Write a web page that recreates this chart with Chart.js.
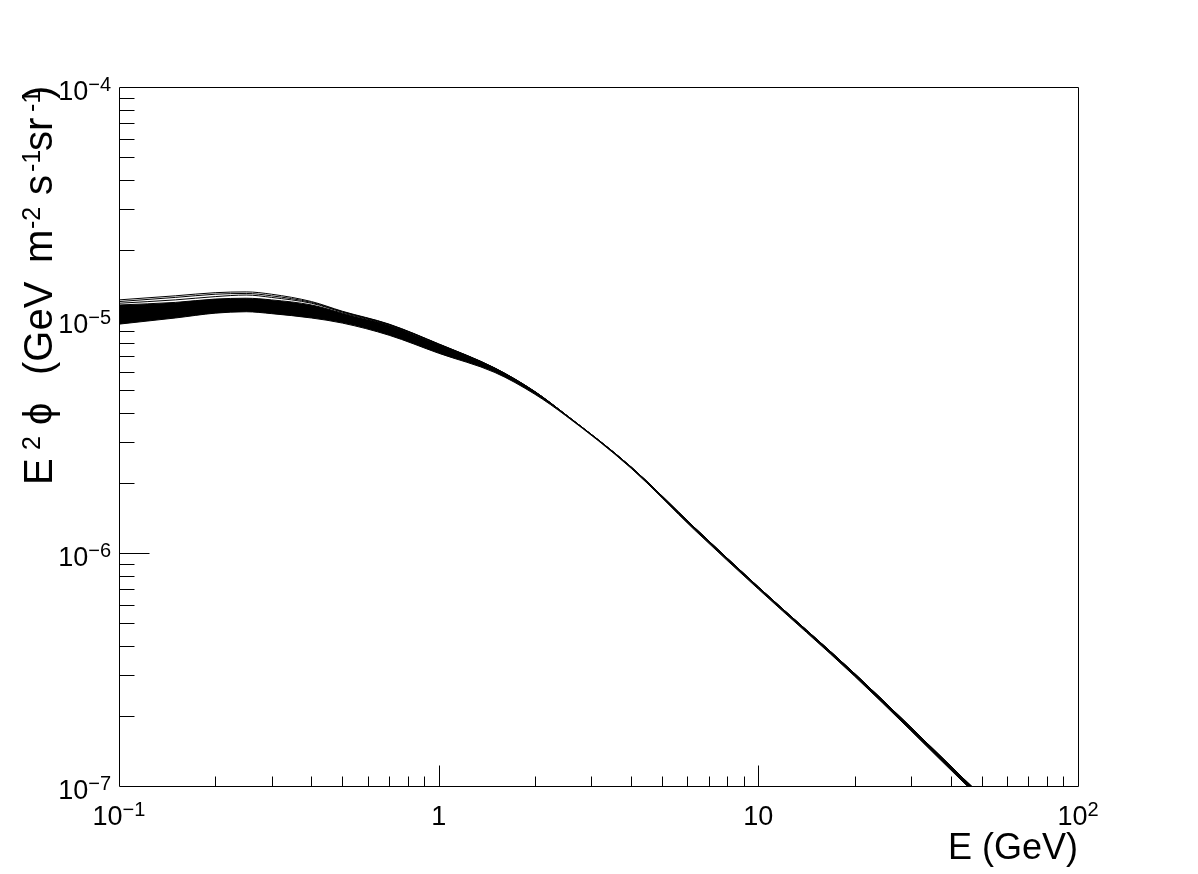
<!DOCTYPE html>
<html>
<head>
<meta charset="utf-8">
<script src="https://cdn.jsdelivr.net/npm/chart.js@4/dist/chart.umd.min.js"></script>
<style>
html,body{margin:0;padding:0;background:#fff;}
canvas{display:block;}
</style>
</head>
<body>
<canvas id="c" width="1198" height="874"></canvas>
<script>
// Energy grid (GeV)
const energyGeV = [0.1, 0.15, 0.2, 0.25, 0.3, 0.4, 0.5, 0.7, 1, 1.5, 2, 2.5, 4, 6.3, 10, 20, 45, 100];
// Dense band: lower and upper edges of E^2 phi
const bandLower = [9.6e-6, 1.02e-5, 1.07e-5, 1.085e-5, 1.065e-5, 1.02e-5, 9.7e-6, 8.6e-6, 7.2e-6, 5.95e-6, 4.8e-6, 3.88e-6, 2.31e-6, 1.26e-6, 7.0e-7, 2.96e-7, 1.0e-7, 3.45e-8];
const bandUpper = [1.16e-5, 1.19e-5, 1.23e-5, 1.24e-5, 1.22e-5, 1.16e-5, 1.07e-5, 9.5e-6, 7.85e-6, 6.2e-6, 4.92e-6, 3.92e-6, 2.34e-6, 1.29e-6, 7.15e-7, 3.04e-7, 1.04e-7, 3.6e-8];
// Individual upper curves
const curveA = [1.22e-5, 1.27e-5, 1.31e-5, 1.32e-5, 1.29e-5, 1.2e-5, 1.09e-5, 9.6e-6, 7.9e-6, 6.22e-6, 4.93e-6, 3.92e-6, 2.34e-6, 1.29e-6, 7.15e-7, 3.04e-7, 1.04e-7, 3.6e-8];
const curveB = [1.2e-5, 1.25e-5, 1.29e-5, 1.3e-5, 1.27e-5, 1.19e-5, 1.085e-5, 9.57e-6, 7.88e-6, 6.21e-6, 4.93e-6, 3.92e-6, 2.34e-6, 1.29e-6, 7.15e-7, 3.04e-7, 1.04e-7, 3.6e-8];
const curveC = [1.18e-5, 1.22e-5, 1.26e-5, 1.28e-5, 1.25e-5, 1.18e-5, 1.08e-5, 9.55e-6, 7.87e-6, 6.2e-6, 4.92e-6, 3.92e-6, 2.34e-6, 1.29e-6, 7.15e-7, 3.04e-7, 1.04e-7, 3.6e-8];

// Tick labels
const xTickValues = [0.1, 1, 10, 100];
const xTickBase = ['10', '1', '10', '10'];
const xTickExp = ['\u22121', '', '', '2'];
const yTickValues = [1e-7, 1e-6, 1e-5, 1e-4];
const yTickBase = ['10', '10', '10', '10'];
const yTickExp = ['\u22127', '\u22126', '\u22125', '\u22124'];

const xTitle = 'E (GeV)';
// y title pieces: [text, isSuperscript]
const yTitleParts = [['E', false], ['2', true], ['\u03D5', false], ['(GeV', false], ['m', false], ['-2', true], ['s', false], ['-1', true], ['sr', false], ['-1', true], [')', false]];

const toPts = arr => energyGeV.map((e, i) => ({x: e, y: arr[i]}));

const FONT = '"Liberation Sans", Arial, Helvetica, sans-serif';

const rootAxes = {
  id: 'rootAxes',
  afterDraw(chart) {
    const ctx = chart.ctx;
    const a = chart.chartArea;
    const xs = chart.scales.x, ys = chart.scales.y;
    ctx.save();
    ctx.strokeStyle = '#000';
    ctx.lineWidth = 1;
    const L = Math.round(a.left) + 0.5, R = Math.round(a.right) + 0.5;
    const T = Math.round(a.top) + 0.5, B = Math.round(a.bottom) + 0.5;
    ctx.beginPath();
    ctx.rect(L, T, R - L, B - T);
    ctx.stroke();
    // ticks
    ctx.beginPath();
    for (let k = -1; k <= 1; k++) {
      for (let m = 1; m <= 9; m++) {
        const v = m * Math.pow(10, k);
        if (v <= 0.1 || v >= 100) continue;
        const px = Math.round(xs.getPixelForValue(v)) + 0.5;
        const len = m === 1 ? 21 : 10;
        ctx.moveTo(px, B); ctx.lineTo(px, B - len);
      }
    }
    for (let k = -7; k <= -5; k++) {
      for (let m = 1; m <= 9; m++) {
        const v = m * Math.pow(10, k);
        if (v <= 1e-7) continue;
        const py = Math.round(ys.getPixelForValue(v)) + 0.5;
        const len = m === 1 ? 30 : 15;
        ctx.moveTo(L, py); ctx.lineTo(L + len, py);
      }
    }
    ctx.stroke();
    ctx.fillStyle = '#000';
    ctx.textBaseline = 'alphabetic';
    ctx.textAlign = 'left';
    const baseFont = '27px ' + FONT, supFont = '20px ' + FONT;
    // x labels
    xTickValues.forEach((v, i) => {
      ctx.font = baseFont; const wb = ctx.measureText(xTickBase[i]).width;
      ctx.font = supFont; const we = xTickExp[i] ? ctx.measureText(xTickExp[i]).width : 0;
      const cx = xs.getPixelForValue(v);
      const x0 = cx - (wb + we) / 2;
      const by = 825;
      ctx.font = baseFont; ctx.fillText(xTickBase[i], x0, by);
      if (xTickExp[i]) { ctx.font = supFont; ctx.fillText(xTickExp[i], x0 + wb, by - 9); }
    });
    // y labels
    yTickValues.forEach((v, i) => {
      ctx.font = baseFont; const wb = ctx.measureText(yTickBase[i]).width;
      ctx.font = supFont; const we = ctx.measureText(yTickExp[i]).width;
      const py = ys.getPixelForValue(v);
      const x1 = 111;
      const x0 = x1 - wb - we;
      const by = py + 13;
      ctx.font = baseFont; ctx.fillText(yTickBase[i], x0, by);
      ctx.font = supFont; ctx.fillText(yTickExp[i], x0 + wb, by - 9);
    });
    // x title
    ctx.font = '36px ' + FONT;
    ctx.textAlign = 'right';
    ctx.fillText(xTitle, a.right, 859);
    // y title rotated, ROOT-like spacing (offsets along the text from its start)
    ctx.textAlign = 'left';
    const mainF = '40px ' + FONT, supF = '25px ' + FONT;
    const offs = [0, 35, 60, 110, 222, 256, 290, 313, 334, 373, 386];
    ctx.translate(52, 485);
    ctx.rotate(-Math.PI / 2);
    yTitleParts.forEach((p, i) => {
      ctx.font = p[1] ? supF : mainF;
      ctx.fillText(p[0], offs[i], p[1] ? -12 : 0);
    });
    ctx.restore();
  }
};

const lineStyle = {borderColor: '#000', borderWidth: 1, pointRadius: 0, cubicInterpolationMode: 'monotone', fill: false};

new Chart(document.getElementById('c'), {
  type: 'line',
  data: {
    datasets: [
      Object.assign({}, lineStyle, {label: 'band lower', data: toPts(bandLower), fill: '+1', backgroundColor: '#000'}),
      Object.assign({}, lineStyle, {label: 'band upper', data: toPts(bandUpper)}),
      Object.assign({}, lineStyle, {label: 'curve A', data: toPts(curveA)}),
      Object.assign({}, lineStyle, {label: 'curve B', data: toPts(curveB)}),
      Object.assign({}, lineStyle, {label: 'curve C', data: toPts(curveC)})
    ]
  },
  options: {
    responsive: false,
    animation: false,
    devicePixelRatio: 1,
    layout: {padding: {left: 119, right: 120, top: 87, bottom: 88}},
    plugins: {legend: {display: false}, tooltip: {enabled: false}},
    scales: {
      x: {type: 'logarithmic', min: 0.1, max: 100,
          ticks: {display: false}, grid: {display: false, drawTicks: false}, border: {display: false},
          afterFit(s) { s.height = 0; }},
      y: {type: 'logarithmic', min: 1e-7, max: 1e-4,
          ticks: {display: false}, grid: {display: false, drawTicks: false}, border: {display: false},
          afterFit(s) { s.width = 0; }}
    }
  },
  plugins: [rootAxes]
});
</script>
</body>
</html>
